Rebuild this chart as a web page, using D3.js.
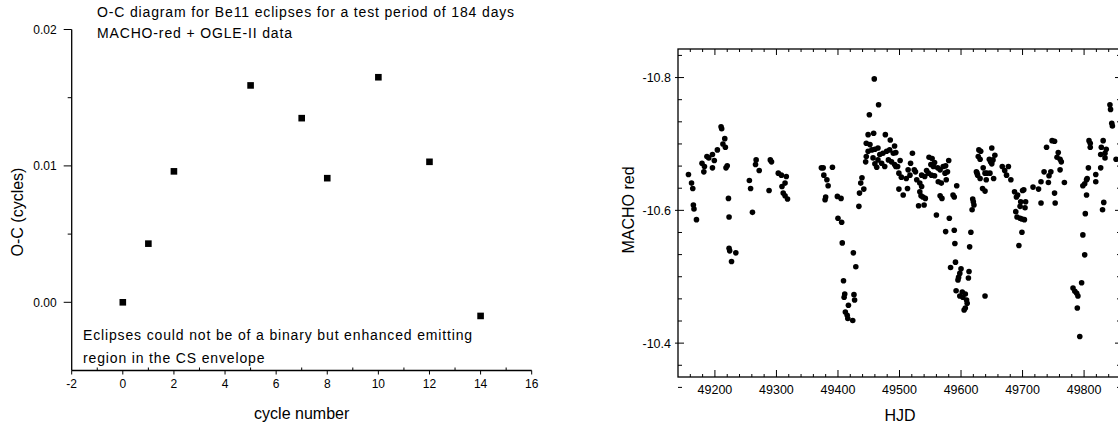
<!DOCTYPE html>
<html>
<head>
<meta charset="utf-8">
<script src="https://cdn.jsdelivr.net/npm/d3@7"></script>
<style>
  body { margin: 0; background: #fff; }
  svg { display: block; font-family: "Liberation Sans", Arial, sans-serif; }
</style>
</head>
<body>
<svg id="chart" width="1118" height="428"></svg>
<script>
// O-C values (left panel)
const cycles = [0, 1, 2, 5, 7, 8, 10, 12, 14];
const ocValues = [0.0000, 0.0043, 0.0096, 0.0159, 0.0135, 0.0091, 0.0165, 0.0103, -0.0010];
const ocTicks = [0.00, 0.01, 0.02];
const cycleTicks = [-2, 0, 2, 4, 6, 8, 10, 12, 14, 16];

// MACHO red light curve (right panel)
const hjd = [
  49157, 49162, 49164, 49165, 49166, 49170, 49179, 49183, 49182, 49187, 49190, 49196, 49196, 49199, 49204,
  49210, 49211, 49213, 49216, 49217, 49220, 49218, 49222, 49223, 49223, 49224, 49234, 49227, 49256, 49258,
  49261, 49267, 49266, 49272, 49290, 49292, 49288, 49303, 49308, 49316, 49314, 49309, 49311, 49314, 49318,
  49373, 49376, 49377, 49382, 49384, 49380, 49379, 49391, 49399, 49405, 49400, 49406, 49407, 49425, 49429,
  49409, 49411, 49410, 49426, 49427, 49417, 49412, 49415, 49416, 49424, 49434, 49435, 49437, 49439, 49442,
  49451, 49459, 49466, 49449, 49458, 49477, 49485, 49492, 49446, 49452, 49449, 49455, 49460, 49465, 49446,
  49457, 49468, 49473, 49479, 49484, 49490, 49494, 49445, 49460, 49465, 49471, 49476, 49482, 49487, 49492,
  49497, 49501, 49463, 49494, 49499, 49503, 49511, 49517, 49521, 49518, 49514, 49524, 49526, 49499, 49506,
  49513, 49528, 49533, 49536, 49533, 49535, 49538, 49542, 49540, 49531, 49536, 49541, 49544, 49548, 49553,
  49551, 49555, 49557, 49562, 49566, 49571, 49574, 49578, 49580, 49575, 49547, 49552, 49557, 49563, 49568,
  49566, 49569, 49576, 49587, 49589, 49593, 49560, 49581, 49575, 49589, 49616, 49590, 49614, 49591, 49583,
  49600, 49598, 49596, 49595, 49613, 49612, 49592, 49602, 49607, 49598, 49603, 49609, 49610, 49607, 49605,
  49639, 49619, 49620, 49621, 49618, 49629, 49632, 49628, 49631, 49625, 49626, 49627, 49636, 49639, 49642,
  49647, 49631, 49641, 49635, 49639, 49650, 49646, 49648, 49650, 49652, 49655, 49653, 49667, 49671, 49677,
  49674, 49681, 49687, 49690, 49692, 49689, 49691, 49696, 49699, 49703, 49697, 49696, 49700, 49702, 49705,
  49704, 49699, 49694, 49717, 49726, 49730, 49730, 49735, 49739, 49742, 49743, 49746, 49748, 49752, 49752,
  49753, 49756, 49758, 49761, 49763, 49761, 49768, 49782, 49785, 49788, 49790, 49789, 49796, 49793, 49798,
  49801, 49802, 49798, 49801, 49804, 49805, 49804, 49807, 49808, 49810, 49810, 49819, 49819, 49827, 49828,
  49827, 49831, 49834, 49836, 49834, 49830, 49832, 49842, 49843, 49845, 49846, 49852
];
const machoRed = [
  -10.654, -10.641, -10.633, -10.608, -10.602, -10.586, -10.671, -10.666, -10.658, -10.681, -10.679, -10.684, -10.664, -10.675, -10.691,
  -10.726, -10.723, -10.700, -10.708, -10.695, -10.667, -10.664, -10.618, -10.590, -10.543, -10.539, -10.536, -10.523, -10.645, -10.633,
  -10.597, -10.676, -10.669, -10.660, -10.676, -10.673, -10.630, -10.656, -10.653, -10.651, -10.641, -10.636, -10.626, -10.622, -10.617,
  -10.664, -10.664, -10.653, -10.646, -10.637, -10.620, -10.616, -10.665, -10.621, -10.618, -10.588, -10.582, -10.551, -10.536, -10.515,
  -10.494, -10.474, -10.469, -10.473, -10.465, -10.457, -10.447, -10.442, -10.437, -10.434, -10.606, -10.626, -10.641, -10.649, -10.632,
  -10.744, -10.798, -10.759, -10.714, -10.716, -10.714, -10.706, -10.697, -10.701, -10.699, -10.689, -10.691, -10.692, -10.694, -10.681,
  -10.679, -10.684, -10.686, -10.689, -10.691, -10.686, -10.687, -10.673, -10.670, -10.676, -10.671, -10.666, -10.676, -10.673, -10.669,
  -10.666, -10.675, -10.665, -10.666, -10.656, -10.650, -10.648, -10.653, -10.686, -10.671, -10.661, -10.661, -10.658, -10.632, -10.623,
  -10.633, -10.646, -10.641, -10.636, -10.628, -10.622, -10.620, -10.618, -10.608, -10.607, -10.653, -10.651, -10.660, -10.680, -10.678,
  -10.669, -10.666, -10.672, -10.664, -10.661, -10.666, -10.656, -10.658, -10.675, -10.667, -10.656, -10.653, -10.652, -10.643, -10.641,
  -10.622, -10.618, -10.646, -10.623, -10.620, -10.637, -10.593, -10.588, -10.568, -10.570, -10.567, -10.550, -10.545, -10.522, -10.514,
  -10.512, -10.505, -10.499, -10.495, -10.508, -10.498, -10.479, -10.477, -10.474, -10.471, -10.469, -10.465, -10.460, -10.453, -10.450,
  -10.471, -10.617, -10.613, -10.608, -10.601, -10.691, -10.689, -10.681, -10.677, -10.658, -10.656, -10.653, -10.664, -10.656, -10.656,
  -10.656, -10.648, -10.646, -10.633, -10.629, -10.694, -10.677, -10.673, -10.670, -10.676, -10.683, -10.648, -10.666, -10.660, -10.666,
  -10.653, -10.646, -10.628, -10.620, -10.623, -10.598, -10.590, -10.588, -10.587, -10.586, -10.613, -10.606, -10.630, -10.631, -10.613,
  -10.604, -10.567, -10.547, -10.635, -10.632, -10.643, -10.611, -10.658, -10.695, -10.642, -10.652, -10.658, -10.705, -10.704, -10.626,
  -10.611, -10.680, -10.687, -10.677, -10.673, -10.661, -10.642, -10.483, -10.478, -10.475, -10.471, -10.453, -10.491, -10.410, -10.563,
  -10.533, -10.595, -10.637, -10.640, -10.646, -10.648, -10.623, -10.664, -10.705, -10.701, -10.695, -10.654, -10.643, -10.664, -10.695,
  -10.684, -10.705, -10.686, -10.692, -10.679, -10.601, -10.612, -10.759, -10.752, -10.731, -10.727, -10.677
];
const hjdTicks = [49200, 49300, 49400, 49500, 49600, 49700, 49800];
const machoTicks = [-10.8, -10.6, -10.4];

const svg = d3.select("#chart");

// ---------- Left panel: O-C diagram ----------
const L = { left: 71.7, right: 531.7, top: 29.5, bottom: 370.5 };

const xL = d3.scaleLinear().domain([-2, 16]).range([L.left, L.right]);
const yL = d3.scaleLinear().domain([-0.005, 0.02]).range([L.bottom, L.top]);

const left = svg.append("g");

// axis lines (only left and bottom)
left.append("line")
  .attr("x1", L.left).attr("x2", L.left)
  .attr("y1", L.top).attr("y2", L.bottom)
  .attr("stroke", "#000").attr("stroke-width", 1.3);
left.append("line")
  .attr("x1", L.left).attr("x2", L.right)
  .attr("y1", L.bottom).attr("y2", L.bottom)
  .attr("stroke", "#000").attr("stroke-width", 1.3);

// y ticks: major outward, minor outward
left.selectAll(".ymaj")
  .data(ocTicks)
  .enter().append("line")
  .attr("x1", L.left - 8).attr("x2", L.left)
  .attr("y1", d => yL(d)).attr("y2", d => yL(d))
  .attr("stroke", "#000");
left.selectAll(".ymin")
  .data(d3.range(0.005, 0.02, 0.01))
  .enter().append("line")
  .attr("x1", L.left - 4).attr("x2", L.left)
  .attr("y1", d => yL(d)).attr("y2", d => yL(d))
  .attr("stroke", "#000");
left.selectAll(".ylab")
  .data(ocTicks)
  .enter().append("text")
  .attr("x", L.left - 15)
  .attr("y", d => yL(d))
  .attr("dy", "0.35em")
  .attr("text-anchor", "end")
  .attr("font-size", "12px")
  .text(d => d.toFixed(2));

// x ticks: major downward, minor upward
left.selectAll(".xmaj")
  .data(cycleTicks)
  .enter().append("line")
  .attr("x1", d => xL(d)).attr("x2", d => xL(d))
  .attr("y1", L.bottom).attr("y2", L.bottom + 4)
  .attr("stroke", "#000");
left.selectAll(".xmin")
  .data(d3.range(-1, 16, 2))
  .enter().append("line")
  .attr("x1", d => xL(d)).attr("x2", d => xL(d))
  .attr("y1", L.bottom - 3).attr("y2", L.bottom)
  .attr("stroke", "#000");
left.selectAll(".xlab")
  .data(cycleTicks)
  .enter().append("text")
  .attr("x", d => xL(d))
  .attr("y", L.bottom + 17)
  .attr("text-anchor", "middle")
  .attr("font-size", "12px")
  .text(d => d);

// square markers
left.selectAll(".sq")
  .data(cycles.map((c, i) => ({ c: c, v: ocValues[i] })))
  .enter().append("rect")
  .attr("x", d => xL(d.c) - 3.3)
  .attr("y", d => yL(d.v) - 3.3)
  .attr("width", 6.6).attr("height", 6.6)
  .attr("fill", "#000");

// titles and annotations (wide letter spacing as in the original)
const note = (x, y, txt) => left.append("text")
  .attr("x", x).attr("y", y)
  .attr("font-size", "14px")
  .attr("letter-spacing", "0.85px")
  .text(txt);
note(97, 17, "O-C diagram for Be11 eclipses for a test period of 184 days");
note(97, 38, "MACHO-red + OGLE-II data");
note(83, 340, "Eclipses could not be of a binary but enhanced emitting");
note(83, 363, "region in the CS envelope");

left.append("text")
  .attr("x", (L.left + L.right) / 2)
  .attr("y", 419)
  .attr("text-anchor", "middle")
  .attr("font-size", "16px")
  .text("cycle number");
left.append("text")
  .attr("transform", "translate(22.5, 212) rotate(-90)")
  .attr("text-anchor", "middle")
  .attr("font-size", "16px")
  .text("O-C (cycles)");

// ---------- Right panel: MACHO red light curve ----------
const R = { left: 678, right: 1121, top: 49, bottom: 377 };

const xR = d3.scaleLinear().domain([49140, 49860]).range([R.left, R.right]);
const yR = d3.scaleLinear().domain([-10.843, -10.349]).range([R.top, R.bottom]);

const right = svg.append("g");

right.append("rect")
  .attr("x", R.left).attr("y", R.top)
  .attr("width", R.right - R.left).attr("height", R.bottom - R.top)
  .attr("fill", "none").attr("stroke", "#000").attr("stroke-width", 1.3);

// x ticks on bottom and top, pointing inward
const hjdMinor = d3.range(49160, 49860, 20).filter(d => d % 100 !== 0);
right.selectAll(".bmaj")
  .data(hjdTicks)
  .enter().append("line")
  .attr("x1", d => xR(d)).attr("x2", d => xR(d))
  .attr("y1", R.bottom - 7).attr("y2", R.bottom)
  .attr("stroke", "#000");
right.selectAll(".bmin")
  .data(hjdMinor)
  .enter().append("line")
  .attr("x1", d => xR(d)).attr("x2", d => xR(d))
  .attr("y1", R.bottom - 3).attr("y2", R.bottom)
  .attr("stroke", "#000");
right.selectAll(".tmaj")
  .data(hjdTicks)
  .enter().append("line")
  .attr("x1", d => xR(d)).attr("x2", d => xR(d))
  .attr("y1", R.top).attr("y2", R.top + 6)
  .attr("stroke", "#000");
right.selectAll(".tmin")
  .data(hjdMinor)
  .enter().append("line")
  .attr("x1", d => xR(d)).attr("x2", d => xR(d))
  .attr("y1", R.top).attr("y2", R.top + 3)
  .attr("stroke", "#000");
right.selectAll(".xlab")
  .data(hjdTicks)
  .enter().append("text")
  .attr("x", d => xR(d))
  .attr("y", R.bottom + 17)
  .attr("text-anchor", "middle")
  .attr("font-size", "12.5px")
  .text(d => d);

// y ticks: majors cross the axis, minors inward (6 intervals per 0.2)
const machoMinor = d3.range(1, 15).map(i => -10.8 + i * 0.2 / 6)
  .concat([-10.8 - 0.2 / 6])
  .filter(d => Math.abs(((d + 10.8) / 0.2) - Math.round((d + 10.8) / 0.2)) > 0.01);
right.selectAll(".lmaj")
  .data(machoTicks)
  .enter().append("line")
  .attr("x1", R.left - 3).attr("x2", R.left + 6)
  .attr("y1", d => yR(d)).attr("y2", d => yR(d))
  .attr("stroke", "#000");
right.selectAll(".lmin")
  .data(machoMinor)
  .enter().append("line")
  .attr("x1", R.left).attr("x2", R.left + 4)
  .attr("y1", d => yR(d)).attr("y2", d => yR(d))
  .attr("stroke", "#000");
right.selectAll(".rmaj")
  .data(machoTicks)
  .enter().append("line")
  .attr("x1", R.right - 6).attr("x2", R.right)
  .attr("y1", d => yR(d)).attr("y2", d => yR(d))
  .attr("stroke", "#000");
right.selectAll(".rmin")
  .data(machoMinor)
  .enter().append("line")
  .attr("x1", R.right - 4).attr("x2", R.right)
  .attr("y1", d => yR(d)).attr("y2", d => yR(d))
  .attr("stroke", "#000");
right.selectAll(".ylab")
  .data(machoTicks)
  .enter().append("text")
  .attr("x", R.left - 7)
  .attr("y", d => yR(d))
  .attr("dy", "0.35em")
  .attr("text-anchor", "end")
  .attr("font-size", "12.5px")
  .text(d => d.toFixed(1));

// dots
right.selectAll(".dot")
  .data(hjd.map((h, i) => ({ h: h, m: machoRed[i] })))
  .enter().append("circle")
  .attr("cx", d => xR(d.h))
  .attr("cy", d => yR(d.m))
  .attr("r", 2.8)
  .attr("fill", "#000");

right.append("text")
  .attr("x", 900).attr("y", 421)
  .attr("text-anchor", "middle")
  .attr("font-size", "16px")
  .text("HJD");
right.append("text")
  .attr("transform", "translate(633.5, 210) rotate(-90)")
  .attr("text-anchor", "middle")
  .attr("font-size", "16px")
  .text("MACHO red");
</script>
</body>
</html>
